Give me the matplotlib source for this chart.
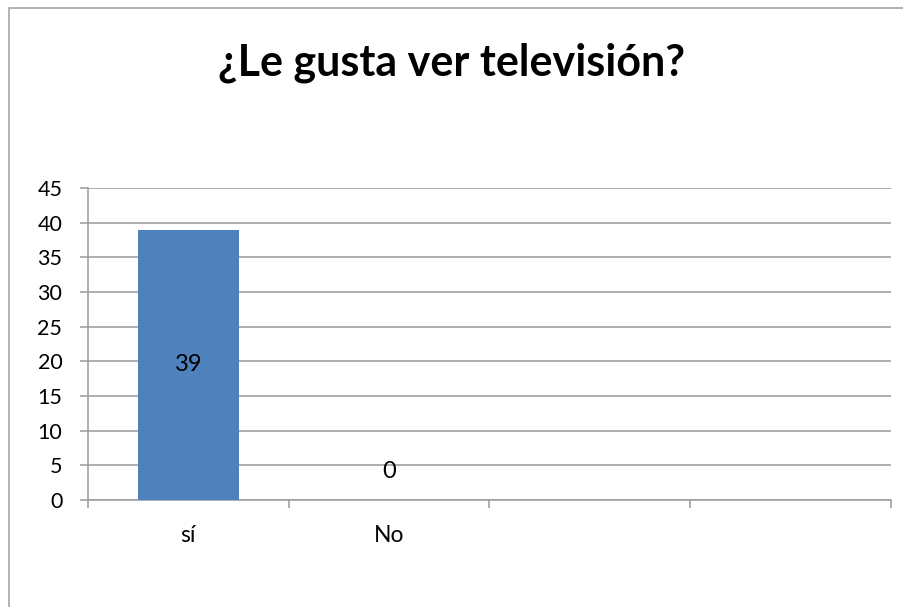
import numpy as np
import matplotlib
matplotlib.use('Agg')
import matplotlib.pyplot as plt
from matplotlib.patches import Rectangle

# Data
categories = ['sí', 'No', '', '']
values = [39, 0, np.nan, np.nan]
y_ticks = list(range(0, 50, 5))
title = '¿Le gusta ver televisión?'

plt.rcParams['font.family'] = ['Lato', 'DejaVu Sans']

W, H = 904, 607
fig = plt.figure(figsize=(W / 100, H / 100), dpi=100)

# outer chart frame (extends past the right/bottom edges)
fig.patches.append(Rectangle((8.5 / W, -0.1), 1.2, 1 - 7.5 / H + 0.1,
                             transform=fig.transFigure, fill=False,
                             edgecolor='#A6A6A6', linewidth=1.2))

ax = fig.add_axes([88 / W, 1 - 500 / H, (891 - 88) / W, (500 - 188) / H])

grid_col = '#A0A0A0'
x = np.arange(len(categories))
ax.bar(x, values, width=0.5, color='#4F81BD', zorder=3)

# data labels
for xi, v in zip(x, values):
    if np.isnan(v):
        continue
    if v > 0:
        ax.text(xi, v / 2, str(v), ha='center', va='center', fontsize=17, zorder=4)
    else:
        ax.annotate(str(v), (xi, v), xytext=(0, 13), textcoords='offset points',
                    ha='center', va='bottom', fontsize=17)

ax.set_xlim(-0.5, len(categories) - 0.5)
ax.set_ylim(0, 45)
ax.set_yticks(y_ticks)
ax.yaxis.grid(True, color=grid_col, linewidth=1.2, zorder=0)

# category boundaries as ticks, labels in the middle
ax.set_xticks(np.arange(len(categories) + 1) - 0.5)
ax.set_xticklabels([])
ax.set_xticks(x, minor=True)
ax.set_xticklabels(categories, minor=True)
ax.tick_params(axis='x', which='major', length=6, color=grid_col, width=1.2)
ax.tick_params(axis='x', which='minor', length=0, pad=18, labelsize=16.5)
ax.tick_params(axis='y', length=6, color=grid_col, width=1.2, pad=12.5, labelsize=15.5)

for s in ['top', 'right']:
    ax.spines[s].set_visible(False)
for s in ['left', 'bottom']:
    ax.spines[s].set_color(grid_col)
    ax.spines[s].set_linewidth(1.2)

fig.text(0.5, 1 - 63 / H, title, ha='center', va='center',
         fontsize=31, fontweight='bold')

fig.savefig('out.png', dpi=100)
